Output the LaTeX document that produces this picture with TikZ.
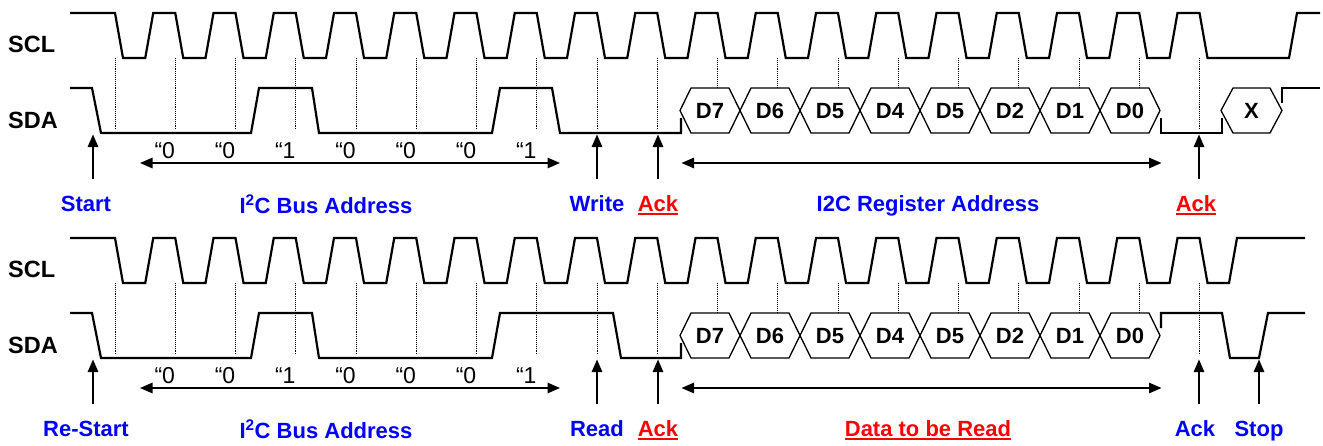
\documentclass[tikz,border=0pt]{standalone}
\usepackage{fontspec}
\setmainfont{Liberation Sans}
\usetikzlibrary{arrows.meta}

\definecolor{lblue}{RGB}{0,0,255}
\definecolor{lred}{RGB}{255,0,0}

\begin{document}
\begin{tikzpicture}[x=1pt, y=-1pt,
    every node/.style={inner sep=0pt, font=\fontsize{22}{26}\selectfont\bfseries},
    wave/.style={line width=2.2pt},
    bus/.style={line width=1.3pt},
    tick/.style={densely dotted, line width=0.9pt},
    pointer/.style={-{Triangle[length=12.5pt, width=10.5pt]}, line width=1.4pt},
    span/.style={{Triangle[length=12.5pt, width=10.5pt]}-{Triangle[length=12.5pt, width=10.5pt]}, line width=1.4pt},
    sig/.style={font=\fontsize{23.5}{28}\selectfont\bfseries, anchor=base west},
    bit/.style={font=\fontsize{23}{27}\selectfont, anchor=base},
    tag/.style={anchor=base, text=lblue},
    warn/.style={anchor=base, text=lred},
    uline/.style={draw=lred, line width=2.2pt}]

\useasboundingbox (0,0) rectangle (1323,445);

% Define a variable for the clock period
\def\per{60.25}
\def\fall{115}

% Signal names
\foreach \dy/\r in {0/A, 225/B} {
    \node[sig] (scl\r) at (8,52+\dy) {SCL};
    \node[sig] (sda\r) at (8,128+\dy) {SDA};
}

% Clock lines (18 pulses each)
\foreach \dy/\up/\stop in {0/1289/1320, 225/1229/1305} {
    \draw[wave] (70,13+\dy) -- (\fall,13+\dy) -- (\fall+8,58+\dy)
        foreach \k in {1,...,18} {
            -- ({\fall+\per*\k-30},58+\dy) -- ({\fall+\per*\k-22},13+\dy)
            -- ({\fall+\per*\k},13+\dy) -- ({\fall+\per*\k+8},58+\dy)
        }
        -- (\up,58+\dy) -- (\up+8,13+\dy) -- (\stop,13+\dy);
}

% Dotted sample marks
\foreach \dy in {0,225} {
    \foreach \k in {0,...,9} {
        \draw[tick] ({\fall+\per*\k},58+\dy) -- ({\fall+\per*\k},130+\dy);
    }
    \foreach \k in {10,...,17} {
        \draw[tick] ({\fall+\per*\k},58+\dy) -- ({\fall+\per*\k},88+\dy);
    }
    \draw[tick] ({\fall+\per*18},58+\dy) -- ({\fall+\per*18},130+\dy);
}

% Data line, address part
\draw[wave] (70,88) -- (92,88) -- (101,133) -- (251,133) -- (259,88) -- (312,88) -- (319,133)
    -- (492,133) -- (500,88) -- (552,88) -- (560,133) -- (681,133) -- (681,118);
\draw[wave] (70,313) -- (92,313) -- (101,358) -- (251,358) -- (259,313) -- (312,313) -- (319,358)
    -- (492,358) -- (500,313) -- (613,313) -- (621,358) -- (681,358) -- (681,343);

% Data bytes
\foreach \dy/\r in {0/A, 225/B} {
    \foreach \d [count=\i from 0] in {7,6,5,4,5,2,1,0} {
        \draw[bus] ({680+60*\i},110.5+\dy) -- ({691+60*\i},88+\dy) -- ({729+60*\i},88+\dy)
            -- ({740+60*\i},110.5+\dy) -- ({729+60*\i},133+\dy) -- ({691+60*\i},133+\dy) -- cycle;
        \node (hex\r\i) at ({710+60*\i},111+\dy) {D\d};
    }
}

% Data line, end part
\draw[wave] (1161,118) -- (1161,133) -- (1222,133) -- (1222,118);
\draw[bus] (1221,110.5) -- (1233,88) -- (1270,88) -- (1282,110.5) -- (1270,133) -- (1233,133) -- cycle;
\node (hexX) at (1251.5,111) {X};
\draw[wave] (1282,103) -- (1282,88) -- (1320,88);
\draw[wave] (1161,328) -- (1161,313) -- (1222,313) -- (1230,358) -- (1259,358) -- (1268,313) -- (1305,313);

% Address bits
\foreach \dy/\r in {0/A, 225/B} {
    \foreach \b [count=\i] in {0,0,1,0,0,0,1} {
        \node[bit] (bit\r\i) at ({\fall+\per*\i-10.5},158+\dy) {“\b};
    }
}

% Labels
\node[tag] (start) at (86,211) {Start};
\node[tag] (busA) at (326,213) {I\textsuperscript{2}C Bus Address};
\node[tag] (write) at (597,211) {Write};
\node[warn] (ackA) at (658,211) {Ack};
\node[tag] (regA) at (928,211) {I2C Register Address};
\node[warn] (ackB) at (1196,211) {Ack};
\node[tag] (restart) at (86,436) {Re-Start};
\node[tag] (busB) at (326,438) {I\textsuperscript{2}C Bus Address};
\node[tag] (read) at (597,436) {Read};
\node[warn] (ackC) at (658,436) {Ack};
\node[warn] (dataRd) at (928,436) {Data to be Read};
\node[tag] (ackD) at (1195,436) {Ack};
\node[tag] (stop) at (1259,436) {Stop};

\foreach \n in {ackA,ackB,ackC,dataRd} {
    \draw[uline] ([yshift=-3pt]\n.base west) -- ([yshift=-3pt]\n.base east);
}

% Pointers up to the data line
\foreach \x/\y/\n in {93/0/start, 597/0/write, 658/0/ackA, 1199/0/ackB,
                      93/225/restart, 597/225/read, 658/225/ackC, 1199/225/ackD, 1259/225/stop} {
    \coordinate (\n-tail) at (\x,179+\y);
    \coordinate (\n-tip) at (\x,134.5+\y);
    \draw[pointer] (\n-tail) -- (\n-tip);
}

% Spans
\foreach \dy/\r in {0/A, 225/B} {
    \coordinate (addr\r-l) at (140,163+\dy);
    \coordinate (addr\r-r) at (560,163+\dy);
    \coordinate (byte\r-l) at (681.5,163+\dy);
    \coordinate (byte\r-r) at (1161.5,163+\dy);
    \draw[span] (addr\r-l) -- (addr\r-r);
    \draw[span] (byte\r-l) -- (byte\r-r);
}

\end{tikzpicture}
\end{document}
